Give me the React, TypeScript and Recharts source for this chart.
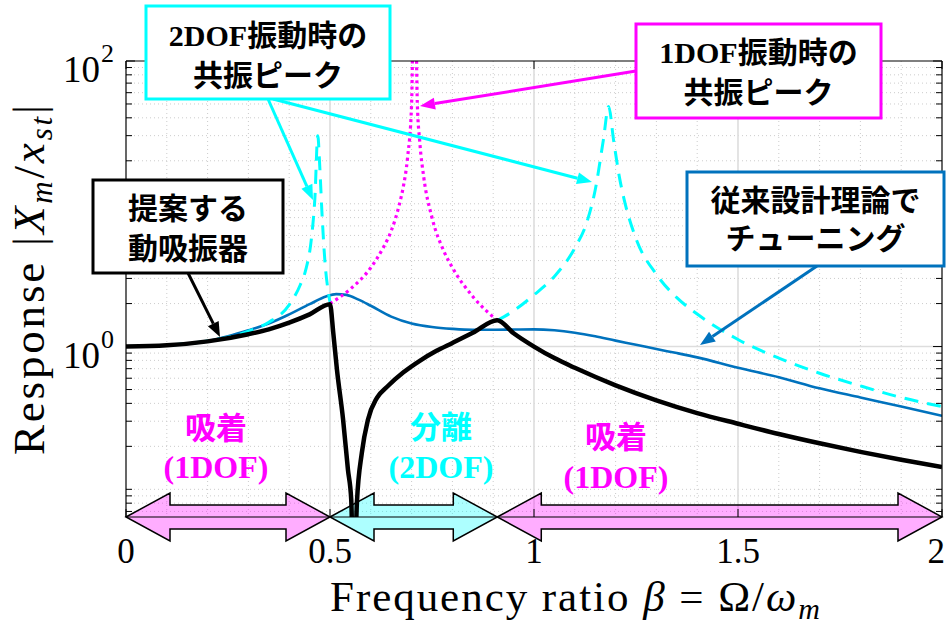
import React from 'react';
import { LineChart, Line, XAxis, YAxis, CartesianGrid, ReferenceArea } from 'recharts';

const CHART_W = 946;
const CHART_H = 625;
const SERIF = "'Liberation Serif', 'Times New Roman', serif";
const MIXED = "'Liberation Serif', 'Noto Sans CJK JP', serif";
const GOTHIC = "'Noto Sans CJK JP', sans-serif";

// Frequency ratio axis
const xDomain = [0, 2];
const xTicks = [0, 0.5, 1, 1.5, 2];
const xTickLabels = ['0', '0.5', '1', '1.5', '2'];
const xMinorGrid = [0.1, 0.2, 0.3, 0.4, 0.6, 0.7, 0.8, 0.9, 1.1, 1.2, 1.3, 1.4, 1.6, 1.7, 1.8, 1.9];
const xMajorGrid = [0.5, 1, 1.5];

// Response axis (logarithmic)
const yDomain = [0.064, 100];
const yTicks = [
  0.07, 0.08, 0.09, 0.1, 0.2, 0.3, 0.4, 0.5, 0.6, 0.7, 0.8, 0.9,
  1, 2, 3, 4, 5, 6, 7, 8, 9, 10, 20, 30, 40, 50, 60, 70, 80, 90, 100,
];
const yLabelTicks = [1, 100];
const yLabelExponents = ['0', '2'];
const yMinorGrid = [
  0.07, 0.08, 0.09, 0.1, 0.2, 0.3, 0.4, 0.5, 0.6, 0.7, 0.8, 0.9,
  2, 3, 4, 5, 6, 7, 8, 9, 10, 20, 30, 40, 50, 60, 70, 80, 90,
];
const yMajorGrid = [1];

// Conventionally tuned absorber (blue)
const conventionalBeta = [
  0, 0.1, 0.2, 0.25, 0.3, 0.35, 0.4, 0.45, 0.49, 0.515, 0.54, 0.57, 0.6, 0.65, 0.7, 0.75,
  0.8, 0.85, 0.9, 0.95, 1.0, 1.05, 1.1, 1.15, 1.2, 1.25, 1.3, 1.35, 1.4, 1.5, 1.6, 1.7, 1.8, 1.9, 2.0,
];
const conventionalResp = [
  1.0, 1.02, 1.09, 1.18, 1.3, 1.45, 1.68, 1.98, 2.24, 2.33, 2.3, 2.13, 1.93, 1.62, 1.45, 1.37,
  1.33, 1.31, 1.31, 1.315, 1.32, 1.3, 1.25, 1.18, 1.1, 1.03, 0.96, 0.9, 0.84, 0.71, 0.61, 0.51, 0.44, 0.38, 0.327,
];

// Proposed absorber (black)
const proposedBeta = [
  0, 0.1, 0.2, 0.3, 0.35, 0.4, 0.45, 0.5, 0.508, 0.517, 0.532, 0.544, 0.552, 0.558, 0.566, 0.578,
  0.593, 0.615, 0.64, 0.68, 0.72, 0.76, 0.8, 0.85, 0.91, 0.95, 1.0, 1.05, 1.1, 1.2, 1.3, 1.4, 1.5,
  1.6, 1.7, 1.8, 1.9, 2.0,
];
const proposedResp = [
  1.0, 1.02, 1.087, 1.22, 1.32, 1.47, 1.68, 1.98, 1.25, 0.69, 0.31, 0.137, 0.085, 0.02, 0.081, 0.18,
  0.307, 0.437, 0.523, 0.66, 0.795, 0.93, 1.06, 1.25, 1.53, 1.24, 1.0, 0.83, 0.71, 0.535, 0.42, 0.342, 0.288,
  0.244, 0.21, 0.183, 0.161, 0.143,
];

// 2DOF resonance branch (cyan dashed), below and above the separated band
const twoDofLowBeta = [0, 0.1, 0.2, 0.3, 0.35, 0.4, 0.427, 0.44, 0.455, 0.463, 0.47, 0.475, 0.48, 0.488, 0.495, 0.5];
const twoDofLowResp = [1.0, 1.02, 1.094, 1.28, 1.48, 1.96, 2.7, 3.4, 5.9, 11, 30, 18, 9, 3.8, 2.5, 2.05];
const twoDofHighBeta = [
  0.91, 0.95, 1.0, 1.05, 1.1, 1.13, 1.15, 1.17, 1.183, 1.195, 1.21, 1.22, 1.25, 1.3, 1.35, 1.4,
  1.5, 1.6, 1.7, 1.8, 1.9, 2.0,
];
const twoDofHighResp = [
  1.52, 1.78, 2.3, 3.1, 4.9, 7.5, 12.5, 28, 48, 28, 15, 11, 5.7, 3.2, 2.2, 1.69,
  1.12, 0.83, 0.65, 0.53, 0.44, 0.38,
];

// 1DOF resonance branch (magenta dotted) inside the separated band
const oneDofBeta = [0.5, 0.55, 0.6, 0.63, 0.65, 0.67, 0.68, 0.69, 0.7, 0.707, 0.714, 0.72, 0.73, 0.75, 0.78, 0.8, 0.85, 0.91];
const oneDofResp = [2.0, 2.53, 3.57, 4.9, 6.45, 9.9, 13.3, 20.9, 50, 800, 51, 27.2, 15.2, 8, 4.6, 3.57, 2.24, 1.52];

// Operating regions along the frequency axis
const regionStart = [0, 0.5, 0.91];
const regionEnd = [0.5, 0.91, 2];
const regionColor = ['#ff00ff', '#00ffff', '#ff00ff'];

const toPoints = (beta: number[], resp: number[]) => beta.map((b, i) => ({ b, v: resp[i] }));

const conventionalData = toPoints(conventionalBeta, conventionalResp);
const proposedData = toPoints(proposedBeta, proposedResp);
const twoDofLowData = toPoints(twoDofLowBeta, twoDofLowResp);
const twoDofHighData = toPoints(twoDofHighBeta, twoDofHighResp);
const oneDofData = toPoints(oneDofBeta, oneDofResp);

const BottomTick = (props: any) => {
  const { x, y, payload } = props;
  const i = xTicks.indexOf(payload.value);
  const last = i === xTicks.length - 1;
  return (
    <g>
      <line x1={x} x2={x} y1={y} y2={y - 8} stroke="#000" strokeWidth={1} />
      <text
        x={last ? x + 3 : x}
        y={y + 46}
        textAnchor={last ? 'end' : 'middle'}
        fontSize={35}
        fontFamily={SERIF}
        fill="#000"
      >
        {xTickLabels[i]}
      </text>
    </g>
  );
};

const TopTick = (props: any) => {
  const { x, y } = props;
  return <line x1={x} x2={x} y1={y} y2={y + 8} stroke="#000" strokeWidth={1} />;
};

const LeftTick = (props: any) => {
  const { x, y, payload } = props;
  const i = yLabelTicks.indexOf(payload.value);
  const major = i >= 0;
  return (
    <g>
      <line x1={x} x2={x + (major ? 9 : 6)} y1={y} y2={y} stroke="#000" strokeWidth={1} />
      {major && (
        <g fontFamily={SERIF} fill="#000">
          <text x={x - 63} y={y + 21} fontSize={37}>10</text>
          <text x={x - 25} y={y + 1} fontSize={26}>{yLabelExponents[i]}</text>
        </g>
      )}
    </g>
  );
};

const RightTick = (props: any) => {
  const { x, y, payload } = props;
  const major = yLabelTicks.indexOf(payload.value) >= 0;
  return <line x1={x} x2={x - (major ? 9 : 6)} y1={y} y2={y} stroke="#000" strokeWidth={1} />;
};

// Double-headed arrow sitting on the lower edge of the plot
const RegionArrow = (props: any) => {
  const { x, y, width, height, fill } = props;
  const yc = y + height;
  const head = 44;
  const hh = 24;
  const bh = 12;
  const x0 = x;
  const x1 = x + width;
  const pts = [
    [x0, yc], [x0 + head, yc - hh], [x0 + head, yc - bh], [x1 - head, yc - bh], [x1 - head, yc - hh],
    [x1, yc], [x1 - head, yc + hh], [x1 - head, yc + bh], [x0 + head, yc + bh], [x0 + head, yc + hh],
  ];
  return (
    <polygon
      points={pts.map((p) => p.join(',')).join(' ')}
      fill={fill}
      fillOpacity={0.32}
      stroke="#000"
      strokeWidth={1.5}
      strokeLinejoin="miter"
    />
  );
};

const Arrow = ({ x1, y1, x2, y2, color }: { x1: number; y1: number; x2: number; y2: number; color: string }) => {
  const dx = x2 - x1;
  const dy = y2 - y1;
  const len = Math.hypot(dx, dy);
  const ux = dx / len;
  const uy = dy / len;
  const head = 15;
  const hw = 6;
  const bx = x2 - ux * head;
  const by = y2 - uy * head;
  const px = -uy * hw;
  const py = ux * hw;
  return (
    <g>
      <line x1={x1} y1={y1} x2={bx} y2={by} stroke={color} strokeWidth={3} />
      <polygon points={`${x2},${y2} ${bx + px},${by + py} ${bx - px},${by - py}`} fill={color} />
    </g>
  );
};

const Callout = ({ x, y, w, h, color, lines, baselines }: any) => (
  <g>
    <rect x={x} y={y} width={w} height={h} fill="#fff" stroke={color} strokeWidth={3} />
    {lines.map((t: string, i: number) => (
      <text
        key={i}
        x={x + w / 2}
        y={baselines[i]}
        textAnchor="middle"
        fontSize={30}
        fontWeight="bold"
        fontFamily={MIXED}
        fill="#000"
      >
        {t}
      </text>
    ))}
  </g>
);

const RegionLabel = ({ cx, y1, y2, color, top, bottom }: any) => (
  <g fill={color} fontWeight="bold" textAnchor="middle">
    <text x={cx} y={y1} fontSize={31} fontFamily={GOTHIC}>{top}</text>
    <text x={cx} y={y2} fontSize={32} fontFamily={SERIF}>{bottom}</text>
  </g>
);

const Annotations = () => (
  <svg
    width={CHART_W}
    height={CHART_H}
    style={{ position: 'absolute', left: 0, top: 0, pointerEvents: 'none' }}
  >
    {/* axis titles */}
    <text x={330} y={611} fontSize={43} fontFamily={SERIF} fill="#000" textLength={490} lengthAdjust="spacing">
      Frequency ratio <tspan fontStyle="italic">β</tspan> = Ω/<tspan fontStyle="italic">ω</tspan>
      <tspan fontStyle="italic" fontSize={30} dy={8}>m</tspan>
    </text>
    <text
      transform="translate(44,455) rotate(-90)"
      fontSize={45}
      fontFamily={SERIF}
      fill="#000"
      textLength={350}
      lengthAdjust="spacing"
    >
      Response |<tspan fontStyle="italic">X</tspan>
      <tspan fontStyle="italic" fontSize={31} dy={8}>m</tspan>
      <tspan dy={-8}>/</tspan>
      <tspan fontStyle="italic">x</tspan>
      <tspan fontStyle="italic" fontSize={31} dy={8}>st</tspan>
      <tspan dy={-8}>|</tspan>
    </text>

    {/* region names */}
    <RegionLabel cx={216} y1={439} y2={478} color="#ff00ff" top="吸着" bottom="(1DOF)" />
    <RegionLabel cx={441} y1={438} y2={478} color="#00ffff" top="分離" bottom="(2DOF)" />
    <RegionLabel cx={616} y1={448} y2={488} color="#ff00ff" top="吸着" bottom="(1DOF)" />

    {/* callout arrows */}
    <Arrow x1={268} y1={99} x2={313} y2={200} color="#00ffff" />
    <Arrow x1={273} y1={99} x2={592} y2={182} color="#00ffff" />
    <Arrow x1={636} y1={71} x2={420} y2={106} color="#ff00ff" />
    <Arrow x1={188} y1={273} x2={220} y2={337} color="#000000" />
    <Arrow x1={817} y1={266} x2={700} y2={345} color="#0072bd" />

    {/* callout boxes */}
    <Callout x={146} y={6} w={244} h={93} color="#00ffff" lines={['2DOF振動時の', '共振ピーク']} baselines={[46, 86]} />
    <Callout x={636} y={24} w={245} h={94} color="#ff00ff" lines={['1DOF振動時の', '共振ピーク']} baselines={[63, 103]} />
    <Callout x={93} y={180} w={190} h={93} color="#000000" lines={['提案する', '動吸振器']} baselines={[219, 259]} />
    <Callout x={687} y={172} w={257} h={94} color="#0072bd" lines={['従来設計理論で', 'チューニング']} baselines={[211, 249]} />
  </svg>
);

export default function App() {
  return (
    <div
      style={{
        position: 'absolute',
        left: 0,
        top: 0,
        width: CHART_W,
        height: CHART_H,
        background: '#fff',
        overflow: 'hidden',
      }}
    >
      <LineChart width={CHART_W} height={CHART_H} margin={{ top: 60, right: 3, bottom: 0, left: 0 }}>
        <CartesianGrid
          horizontalValues={yMinorGrid}
          verticalValues={xMinorGrid}
          stroke="#cccccc"
          strokeDasharray="1 3"
          strokeWidth={1}
        />
        <CartesianGrid
          horizontalValues={yMajorGrid}
          verticalValues={xMajorGrid}
          stroke="#dddddd"
          strokeWidth={1.6}
        />
        <XAxis
          xAxisId={0}
          type="number"
          dataKey="b"
          domain={xDomain}
          ticks={xTicks}
          interval={0}
          allowDataOverflow
          height={108}
          tickLine={false}
          tickSize={0}
          tickMargin={0}
          tick={<BottomTick />}
          axisLine={{ stroke: '#000', strokeWidth: 1.2 }}
        />
        <XAxis
          xAxisId="top"
          orientation="top"
          type="number"
          dataKey="b"
          domain={xDomain}
          ticks={xTicks}
          interval={0}
          allowDataOverflow
          height={1}
          tickLine={false}
          tickSize={0}
          tickMargin={0}
          tick={<TopTick />}
          axisLine={{ stroke: '#000', strokeWidth: 1.2 }}
        />
        <YAxis
          yAxisId={0}
          type="number"
          scale="log"
          domain={yDomain}
          ticks={yTicks}
          interval={0}
          allowDataOverflow
          width={126}
          tickLine={false}
          tickSize={0}
          tickMargin={0}
          tick={<LeftTick />}
          axisLine={{ stroke: '#000', strokeWidth: 1.2 }}
        />
        <YAxis
          yAxisId="right"
          orientation="right"
          type="number"
          scale="log"
          domain={yDomain}
          ticks={yTicks}
          interval={0}
          allowDataOverflow
          width={1}
          tickLine={false}
          tickSize={0}
          tickMargin={0}
          tick={<RightTick />}
          axisLine={{ stroke: '#000', strokeWidth: 1.2 }}
        />
        <Line
          data={conventionalData}
          dataKey="v"
          type="monotone"
          stroke="#0072bd"
          strokeWidth={2.6}
          dot={false}
          isAnimationActive={false}
        />
        <Line
          data={twoDofLowData}
          dataKey="v"
          type="monotone"
          stroke="#00ffff"
          strokeWidth={3}
          strokeDasharray="14 9"
          dot={false}
          isAnimationActive={false}
        />
        <Line
          data={twoDofHighData}
          dataKey="v"
          type="monotone"
          stroke="#00ffff"
          strokeWidth={3}
          strokeDasharray="14 9"
          dot={false}
          isAnimationActive={false}
        />
        <Line
          data={oneDofData}
          dataKey="v"
          type="monotone"
          stroke="#ff00ff"
          strokeWidth={3.2}
          strokeDasharray="3 3.5"
          dot={false}
          isAnimationActive={false}
        />
        <Line
          data={proposedData}
          dataKey="v"
          type="monotone"
          stroke="#000000"
          strokeWidth={4.5}
          dot={false}
          isAnimationActive={false}
        />
        {regionStart.map((s, i) => (
          <ReferenceArea
            key={i}
            x1={s}
            x2={regionEnd[i]}
            y1={yDomain[0]}
            y2={0.1}
            ifOverflow="visible"
            fill={regionColor[i]}
            shape={<RegionArrow />}
          />
        ))}
      </LineChart>
      <Annotations />
    </div>
  );
}
